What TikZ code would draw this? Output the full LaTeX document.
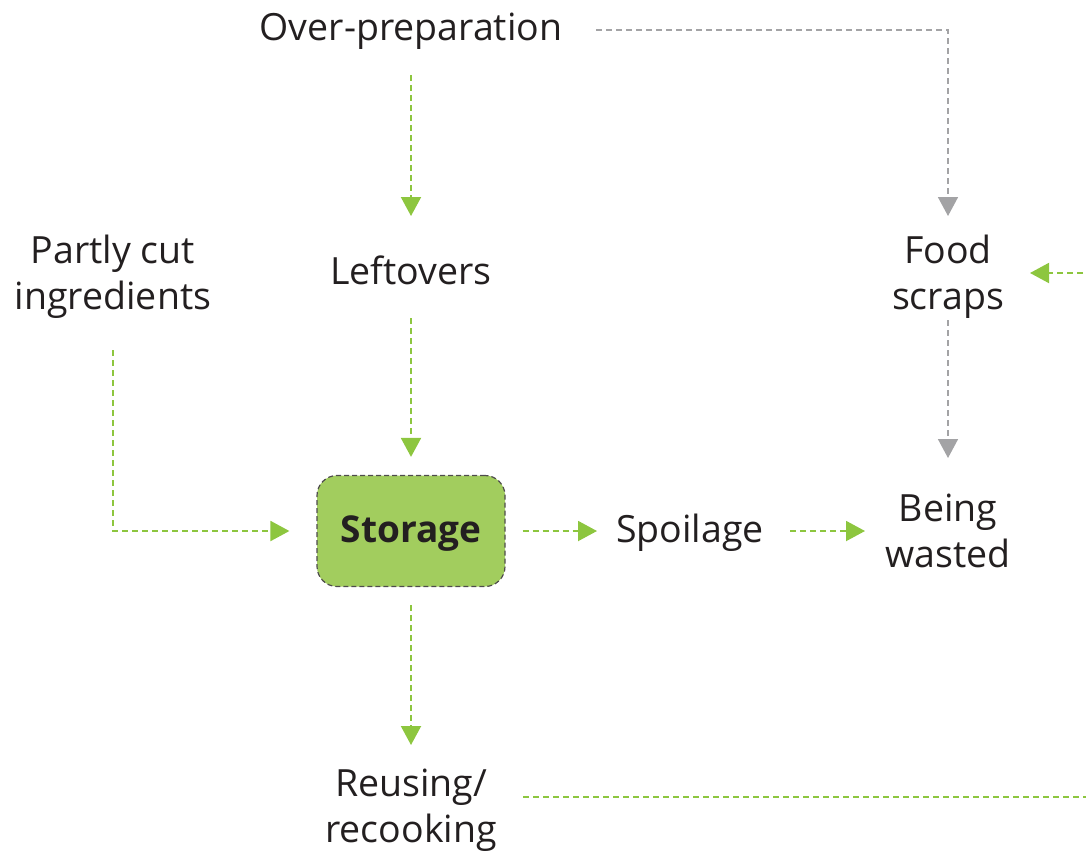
\documentclass[tikz,border=0pt]{standalone}
\usepackage{fontspec}
\setmainfont{Open Sans}
\usetikzlibrary{arrows.meta,calc}
\definecolor{leaf}{HTML}{8DC63F}
\definecolor{boxfill}{HTML}{A2CD5E}
\definecolor{ash}{HTML}{A3A3A5}
\definecolor{ink}{HTML}{231F20}
\tikzset{
  lbl/.style={font=\fontsize{37.5}{46}\selectfont, text=ink, align=center, inner sep=0pt},
  hub/.style={draw=ink!80, dashed, line width=1.2pt, dash pattern=on 5pt off 3pt,
    fill=boxfill, rounded corners=20pt, minimum width=188pt, minimum height=111pt,
    text depth=3pt, font=\fontsize{37}{46}\selectfont\bfseries, text=ink},
  flow/.style={draw=leaf, line width=2pt, dash pattern=on 6pt off 4pt,
    -{Triangle[length=19pt,width=20pt]}},
  waste/.style={draw=ash, line width=1.6pt, dash pattern=on 6pt off 4pt,
    -{Triangle[length=19pt,width=20pt]}},
}
\begin{document}
\begin{tikzpicture}[x=1pt,y=-1pt]
\useasboundingbox (0,0) rectangle (1086,852);

\node[lbl] (over) at (411,31) {Over-preparation};
\node[lbl] (partly) at (113,277) {Partly cut\\ingredients};
\node[lbl] (left) at (411,270) {Leftovers};
\node[lbl] (scraps) at (948,277) {Food\\scraps};
\node[hub] (stor) at (411,531) {Storage};
\node[lbl] (spoil) at (690,533) {Spoilage};
\node[lbl] (wasted) at (948,531) {Being\\wasted};
\node[lbl] (reuse) at (411,810) {Reusing/\\recooking};
\coordinate (edge) at (1096,797);

% main flows
\draw[flow] ($(over)+(0,44)$) -- ($(left)+(0,-54)$);
\draw[flow] ($(left)+(0,48)$) -- ($(stor.north)+(0,-18)$);
\draw[flow] ($(partly)+(0,73)$) |- ($(stor.west)+(-27,0)$);
\draw[flow] ($(stor.east)+(17,0)$) -- ($(spoil)+(-93,-2)$);
\draw[flow] ($(spoil)+(100,-2)$) -- ($(wasted)+(-83,0)$);
\draw[flow] ($(stor.south)+(0,18)$) -- ($(reuse)+(0,-65)$);
\draw[flow] ($(reuse)+(112,-13)$) -- (edge) |- ($(scraps)+(82,-4)$);

% waste stream
\draw[waste] ($(over)+(185,-1)$) -| ($(scraps)+(0,-61)$);
\draw[waste] ($(scraps)+(0,43)$) -- ($(wasted)+(0,-73)$);
\end{tikzpicture}
\end{document}
